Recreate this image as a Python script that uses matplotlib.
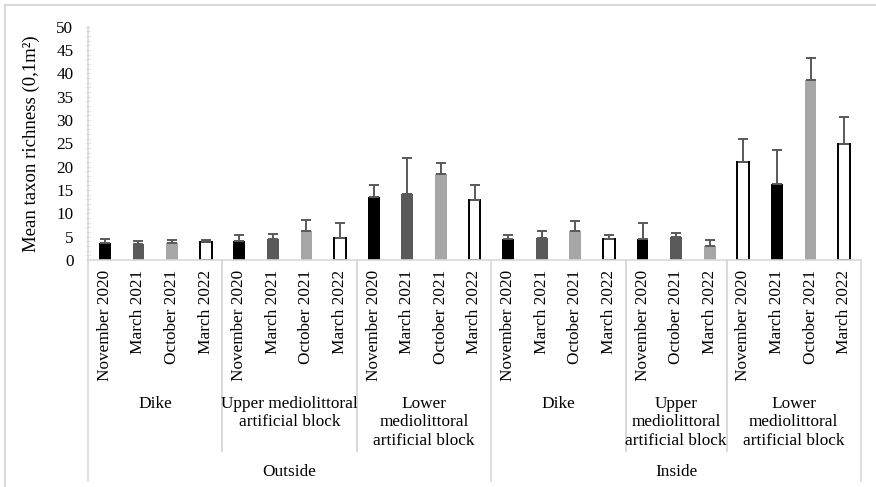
import matplotlib
matplotlib.use("Agg")
import matplotlib.pyplot as plt
from matplotlib.lines import Line2D
import matplotlib.transforms as mtransforms
import numpy as np

# ---- data ----
zones = ["Outside", "Inside"]
sites = ["Dike", "Upper mediolittoral\nartificial block", "Lower\nmediolittoral\nartificial block",
         "Dike", "Upper\nmediolittoral\nartificial block", "Lower\nmediolittoral\nartificial block"]
site_zone = [0, 0, 0, 1, 1, 1]
dates = [
    ["November 2020", "March 2021", "October 2021", "March 2022"],
    ["November 2020", "March 2021", "October 2021", "March 2022"],
    ["November 2020", "March 2021", "October 2021", "March 2022"],
    ["November 2020", "March 2021", "October 2021", "March 2022"],
    ["November 2020", "October 2021", "March 2022"],
    ["November 2020", "March 2021", "October 2021", "March 2022"],
]
means = [
    [3.7, 3.4, 3.7, 3.8],
    [4.1, 4.6, 6.2, 4.8],
    [13.6, 14.1, 18.4, 12.9],
    [4.6, 4.8, 6.2, 4.6],
    [4.6, 5.0, 3.0],
    [21.1, 16.3, 38.5, 24.9],
]
sds = [
    [0.8, 0.7, 0.65, 0.5],
    [1.3, 1.0, 2.4, 3.2],
    [2.4, 7.7, 2.4, 3.2],
    [0.7, 1.5, 2.1, 0.7],
    [3.4, 0.85, 1.35],
    [4.8, 7.2, 4.7, 5.7],
]
# fill style per bar: K black, D dark grey, L light grey, W white outlined
fills = [
    ["K", "D", "L", "W"],
    ["K", "D", "L", "W"],
    ["K", "D", "L", "W"],
    ["K", "D", "L", "W"],
    ["K", "D", "L"],
    ["W", "K", "L", "W"],
]

# ---- styles ----
fillmap = {"K": "#000000", "D": "#595959", "L": "#a6a6a6", "W": "#ffffff"}
edgemap = {"K": "#000000", "D": "#595959", "L": "#a6a6a6", "W": "#000000"}
grid_c = "#d9d9d9"

plt.rcParams["font.family"] = ["Liberation Serif", "DejaVu Serif"]
plt.rcParams["font.size"] = 12

W, H = 876, 487
fig = plt.figure(figsize=(W / 100, H / 100), dpi=100)
ax = fig.add_axes([88 / W, 1 - 260 / H, (861 - 88) / W, (260 - 26.7) / H])

flat_labels, flat_means, flat_sds, flat_fill = [], [], [], []
group_bounds = []
pos = 0
for g in range(len(sites)):
    start = pos
    for d, m, s, f in zip(dates[g], means[g], sds[g], fills[g]):
        flat_labels.append(d); flat_means.append(m); flat_sds.append(s); flat_fill.append(f)
        pos += 1
    group_bounds.append((start, pos))
n = len(flat_means)
x = np.arange(n)

ax.bar(x, flat_means, width=0.35,
       color=[fillmap[f] for f in flat_fill],
       edgecolor=[edgemap[f] for f in flat_fill],
       linewidth=[1.4 if f == "W" else 0 for f in flat_fill], zorder=2)
ax.errorbar(x, flat_means, yerr=[np.zeros(n), flat_sds], fmt="none",
            ecolor="#595959", elinewidth=1.4, capsize=3.6, capthick=1.4, zorder=3)

ax.set_xlim(-0.5, n - 0.5)
ax.set_ylim(0, 50)
ax.set_yticks(np.arange(0, 51, 5))
ax.set_yticks(np.arange(0, 51, 1), minor=True)
ax.tick_params(axis="y", which="both", direction="inout", length=3, width=0.8,
               color=grid_c, pad=9, labelsize=12.3)
ax.set_xticks([])
for sp in ["top", "right"]:
    ax.spines[sp].set_visible(False)
ax.spines["left"].set_color(grid_c)
ax.spines["bottom"].set_color(grid_c)
ax.spines["left"].set_linewidth(1.2)
ax.spines["bottom"].set_linewidth(1.2)
ax.set_ylabel("Mean taxon richness (0,1m²)", fontsize=13.5)
ax.yaxis.set_label_coords(-0.062, 0.5)

# pixel-based y positions for the hierarchical axis
trans = mtransforms.blended_transform_factory(ax.transData, fig.transFigure)
def fy(py):
    return 1 - py / H

for i, lab in enumerate(flat_labels):
    ax.text(i, fy(270), lab, rotation=90, ha="center", va="top", fontsize=12.4,
            transform=trans)

for g, (s, e) in enumerate(group_bounds):
    ax.text((s + e - 1) / 2, fy(396), sites[g], ha="center", va="top",
            fontsize=12.4, linespacing=1.2, transform=trans)

# separators
zone_edges = set()
zone_ranges = {}
for g, (s, e) in enumerate(group_bounds):
    z = site_zone[g]
    lo, hi = zone_ranges.get(z, (s, e))
    zone_ranges[z] = (min(lo, s), max(hi, e))
for z, (s, e) in zone_ranges.items():
    zone_edges.add(s - 0.5); zone_edges.add(e - 0.5)
    ax.text((s + e - 1) / 2, fy(471.5), zones[z], ha="center", va="center",
            fontsize=12.4, transform=trans)
for g, (s, e) in enumerate(group_bounds):
    for b in (s - 0.5, e - 0.5):
        if b not in zone_edges:
            ax.add_line(Line2D([b, b], [fy(260), fy(451)], transform=trans,
                               color=grid_c, lw=1.2, clip_on=False))
for b in zone_edges:
    ax.add_line(Line2D([b, b], [fy(260), fy(481)], transform=trans,
                       color=grid_c, lw=1.2, clip_on=False))

# figure frame (top and left)
fig.add_artist(Line2D([4.5 / W, 1], [fy(5), fy(5)], color=grid_c, lw=1.5))
fig.add_artist(Line2D([4.5 / W, 4.5 / W], [0, fy(5)], color=grid_c, lw=1.5))

fig.savefig("out.png", dpi=100)
